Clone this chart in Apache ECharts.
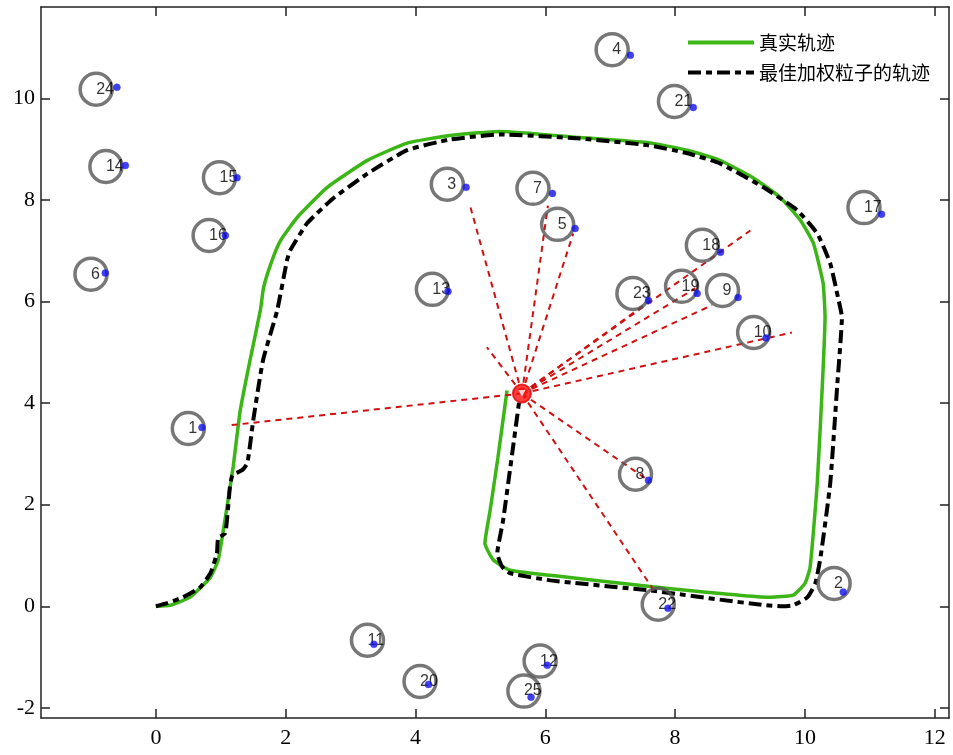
<!DOCTYPE html>
<html>
<head>
<meta charset="utf-8">
<script src="https://cdn.jsdelivr.net/npm/echarts@6/dist/echarts.min.js"></script>
<style>html,body{margin:0;padding:0;background:#fff}#c{width:953px;height:755px}</style>
</head>
<body>
<div id="c"></div>
<script>
// ---- data ----
const xTicks = [0, 2, 4, 6, 8, 10, 12];
const yTicks = [-2, 0, 2, 4, 6, 8, 10];

// true trajectory (x, y)
const trueX = [0.00,0.22,0.53,0.84,0.96,1.04,1.19,1.30,1.45,1.61,1.66,1.79,1.92,2.18,2.64,3.26,3.87,4.53,5.30,6.54,7.57,8.19,8.69,9.20,9.62,9.93,10.13,10.28,10.31,10.27,10.19,10.08,10.00,9.82,9.46,7.62,6.08,5.46,5.20,5.07,5.15,5.27,5.41];
const trueY = [0.00,0.02,0.18,0.57,0.91,1.50,2.74,3.86,4.84,5.83,6.28,6.81,7.20,7.66,8.25,8.78,9.12,9.27,9.35,9.23,9.13,8.98,8.78,8.44,8.05,7.60,7.15,6.36,5.69,4.39,2.42,0.77,0.45,0.22,0.18,0.39,0.61,0.71,0.91,1.24,1.89,2.93,4.25];

// best weighted particle trajectory
const estX = [0.00,0.17,0.42,0.68,0.84,0.94,0.96,1.07,1.14,1.18,1.33,1.41,1.50,1.65,1.87,2.02,2.07,2.33,2.73,3.26,3.87,4.53,5.30,6.54,7.57,8.19,8.69,9.36,9.88,10.19,10.39,10.51,10.57,10.50,10.39,10.24,10.16,10.04,9.82,9.66,7.62,6.08,5.46,5.34,5.26,5.35,5.49,5.60];
const estY = [0.00,0.06,0.18,0.37,0.65,1.04,1.34,1.44,2.34,2.58,2.68,2.82,3.66,4.84,5.83,6.81,7.01,7.54,8.03,8.52,8.98,9.19,9.29,9.21,9.08,8.92,8.72,8.25,7.80,7.34,6.75,6.08,5.69,4.39,2.42,0.96,0.45,0.18,0.02,0.00,0.31,0.51,0.65,0.77,1.04,1.69,3.01,4.06];

// landmarks: id, estimated circle centre, true position
const lmId  = [1,2,3,4,5,6,7,8,9,10,11,12,13,14,15,16,17,18,19,20,21,22,23,24,25];
const lmCx  = [0.50,10.45,4.49,7.03,6.19,-1.00,5.81,7.39,8.73,9.21,3.26,5.92,4.26,-0.77,0.98,0.82,10.91,8.42,8.10,4.07,7.99,7.74,7.35,-0.92,5.67];
const lmCy  = [3.50,0.45,8.31,10.96,7.52,6.54,8.23,2.60,6.22,5.39,-0.67,-1.08,6.24,8.66,8.44,7.30,7.85,7.11,6.30,-1.48,9.94,0.04,6.16,10.18,-1.67];
const lmTx  = [0.71,10.59,4.78,7.31,6.46,-0.78,6.11,7.59,8.97,9.40,3.36,6.03,4.50,-0.47,1.25,1.07,11.18,8.70,8.34,4.20,8.28,7.89,7.59,-0.60,5.78];
const lmTy  = [3.52,0.28,8.25,10.85,7.44,6.56,8.13,2.48,6.08,5.28,-0.75,-1.16,6.20,8.68,8.44,7.30,7.72,6.97,6.16,-1.54,9.82,-0.04,6.02,10.22,-1.79];

// robot position and observation end points
const robot = [5.64, 4.19];
const obsX = [1.11,4.84,6.04,6.43,5.10,7.62,8.31,9.16,8.57,9.80,7.54,7.69];
const obsY = [3.56,7.89,7.89,7.34,5.10,6.02,6.26,7.40,5.93,5.39,2.52,0.28];

const names = ['真实轨迹', '最佳加权粒子的轨迹'];

// ---- build ----
const zip = (a, b) => a.map((v, i) => [v, b[i]]);
const chart = echarts.init(document.getElementById('c'), null, {renderer: 'canvas'});

const tickStyle = {show: true, inside: true, length: 9, lineStyle: {color: '#222', width: 1.5}};
const lineAx = {show: true, onZero: false, lineStyle: {color: '#222', width: 1.5}};
const lblStyle = {fontFamily: 'Liberation Serif', fontSize: 22, color: '#000'};

const option = {
  animation: false,
  backgroundColor: '#fff',
  grid: {left: 41, right: 4, top: 7, bottom: 37, containLabel: false},
  legend: {
    orient: 'vertical', left: 681, top: 28,
    itemWidth: 66, itemHeight: 14, itemGap: 11,
    itemStyle: {opacity: 0},
    lineStyle: {width: 4},
    textStyle: {fontFamily: 'Noto Sans CJK SC', fontSize: 19, color: '#000'},
    data: names
  },
  xAxis: [
    {type: 'value', position: 'bottom', min: -1.77, max: 12.22, axisLine: lineAx, splitLine: {show: false},
      axisTick: Object.assign({}, tickStyle, {customValues: xTicks}),
      axisLabel: Object.assign({customValues: xTicks, margin: 9}, lblStyle)},
    {type: 'value', position: 'top', min: -1.77, max: 12.22, axisLine: lineAx, splitLine: {show: false},
      axisTick: Object.assign({}, tickStyle, {customValues: xTicks}),
      axisLabel: {show: false}}
  ],
  yAxis: [
    {type: 'value', position: 'left', min: -2.2, max: 11.8, axisLine: lineAx, splitLine: {show: false},
      axisTick: Object.assign({}, tickStyle, {customValues: yTicks}),
      axisLabel: Object.assign({customValues: yTicks, margin: 6}, lblStyle)},
    {type: 'value', position: 'right', min: -2.2, max: 11.8, axisLine: lineAx, splitLine: {show: false},
      axisTick: Object.assign({}, tickStyle, {customValues: yTicks}),
      axisLabel: {show: false}}
  ],
  series: [
    {
      name: names[0], type: 'line', data: zip(trueX, trueY), symbol: 'none', smooth: 0.15,
      lineStyle: {color: '#3cb516', width: 3.5}, itemStyle: {color: '#3cb516'}, z: 2
    },
    {
      name: names[1], type: 'line', data: zip(estX, estY), symbol: 'none', smooth: 0.15,
      lineStyle: {color: '#000', width: 4, type: [13, 5, 6, 5]}, itemStyle: {color: '#000'}, z: 3
    },
    {
      type: 'lines', coordinateSystem: 'cartesian2d', polyline: false, z: 4,
      lineStyle: {color: '#d01010', width: 2, type: [6, 5], opacity: 1},
      data: obsX.map((x, i) => ({coords: [robot, [x, obsY[i]]]}))
    },
    {
      type: 'scatter', data: lmCx.map((x, i) => [x, lmCy[i], lmId[i]]), z: 5,
      symbol: 'circle', symbolSize: 32,
      itemStyle: {color: 'rgba(0,0,0,0)', borderColor: '#555', borderWidth: 3.5},
      label: {show: true, position: 'inside', align: 'left', verticalAlign: 'middle',
        formatter: p => String(p.value[2]), fontFamily: 'Liberation Sans', fontSize: 16, color: '#000'}
    },
    {
      type: 'scatter', data: zip(lmTx, lmTy), z: 6, symbol: 'circle', symbolSize: 7,
      itemStyle: {color: '#1010e8', borderColor: '#3a3aff', borderWidth: 0.5}
    },
    {
      type: 'scatter', data: [robot], z: 7, symbol: 'circle', symbolSize: 18,
      itemStyle: {color: '#ff1010', borderColor: '#e00000', borderWidth: 2}
    },
    {
      type: 'scatter', data: [robot], z: 8, symbol: 'triangle', symbolSize: 7, symbolRotate: 180,
      itemStyle: {color: '#fff'}
    }
  ]
};
chart.setOption(option);
</script>
</body>
</html>
